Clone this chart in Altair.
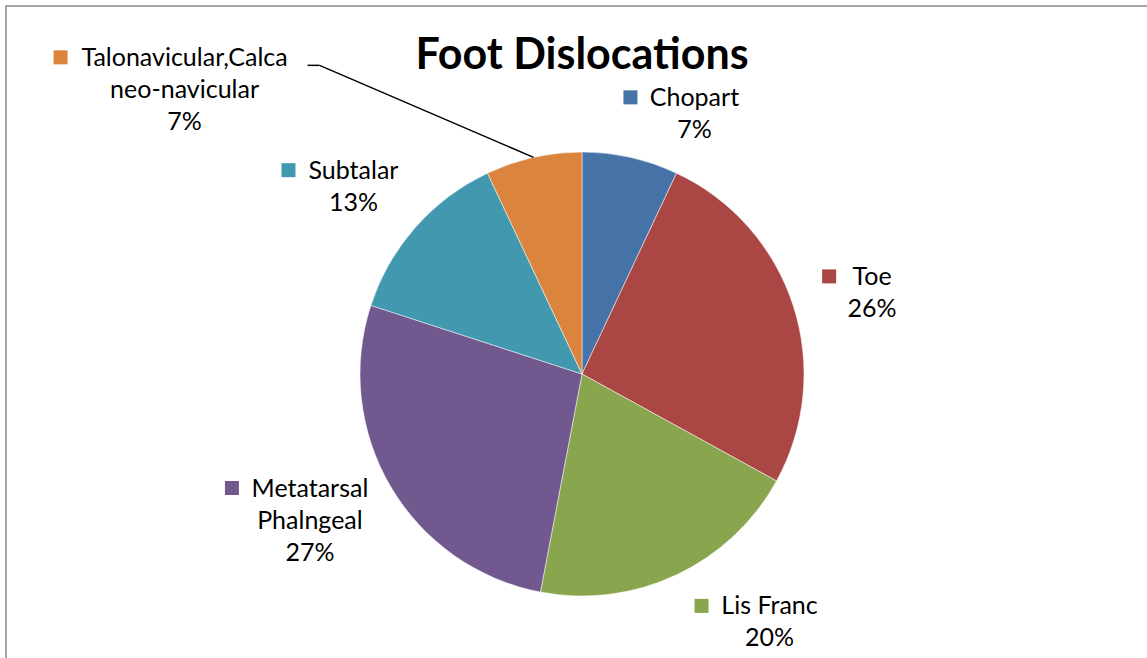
import altair as alt
import pandas as pd

# ---- data ----
title_text = "Foot Dislocations"
categories = ["Chopart", "Toe", "Lis Franc", "Metatarsal Phalngeal",
              "Subtalar", "Talonavicular,Calcaneo-navicular"]
label_lines = ["Chopart", "Toe", "Lis Franc", "Metatarsal\nPhalngeal",
               "Subtalar", "Talonavicular,Calca\nneo-navicular"]
values = [7, 26, 20, 27, 13, 7]
colors = ["#4572A7", "#AA4643", "#89A54E", "#71588F", "#4198AF", "#DB843D"]

df = pd.DataFrame({"category": categories, "label": label_lines,
                   "value": values, "order": list(range(len(values)))})

# ---- layout / styling ----
W, H = 1147, 658
CX, CY, R = 582, 374, 222
FONT = "Lato"
# label placement offsets from slice-edge point: (text dx, text dy, marker dx, marker dy)
offsets = [
    (64, -59, 0, -60),
    (79, -28, 36, -29),
    (93, 31, 25, 31),
    (-81, 2, -159, 1),
    (-62, -56, -127, -57),
    (-349, -99, -473, -100),
]

color = alt.Color("category:N", scale=alt.Scale(domain=categories, range=colors), legend=None)

base = alt.Chart(df)

frame = alt.Chart(pd.DataFrame({"k": [0]})).mark_rect(
    fillOpacity=0, stroke="#888888", strokeWidth=1.5
).encode(x=alt.value(6), x2=alt.value(W + 40), y=alt.value(6), y2=alt.value(H + 40))

pie = base.mark_arc(outerRadius=R, stroke="white", strokeWidth=0.5).encode(
    theta=alt.Theta("value:Q", stack=True),
    order=alt.Order("order:Q"),
    color=color,
    x=alt.value(CX), y=alt.value(CY),
)

pos = base.transform_joinaggregate(total="sum(value)").transform_window(
    cum="sum(value)", sort=[alt.SortField("order")], frame=[None, 0]
).transform_calculate(
    mid="(datum.cum - datum.value / 2) / datum.total * 2 * PI",
    ex=f"{CX} + {R} * sin(datum.mid)",
    ey=f"{CY} - {R} * cos(datum.mid)",
    txt="datum.label + '\\n' + format(datum.value, 'd') + '%'",
)

X = alt.X("ex:Q", scale=None)
Y = alt.Y("ey:Q", scale=None)

layers = [frame, pie]
for cat, (tx, ty, mx, my) in zip(categories, offsets):
    sub = pos.transform_filter(alt.datum.category == cat)
    layers.append(sub.mark_text(
        font=FONT, fontSize=25, lineHeight=32, lineBreak="\n", align="center",
        baseline="middle", dx=tx, dy=ty, color="black"
    ).encode(x=X, y=Y, text="txt:N"))
    layers.append(sub.mark_square(size=196, opacity=1, xOffset=mx, yOffset=my).encode(
        x=X, y=Y, color=color))

# leader line for the Talonavicular label
lead = pos.transform_filter(alt.datum.category == categories[-1]).transform_calculate(
    lx="datum.ex - 214", ly="datum.ey - 92", lx2="datum.ex - 226"
)
layers.append(lead.mark_rule(color="black", strokeWidth=1.5).encode(
    x=X, y=Y, x2="lx:Q", y2="ly:Q"))
layers.append(lead.mark_rule(color="black", strokeWidth=1.5).encode(
    x=alt.X("lx:Q", scale=None), y=alt.Y("ly:Q", scale=None), x2="lx2:Q"))

title = alt.Chart(pd.DataFrame({"t": [title_text]})).mark_text(
    font=FONT, fontSize=43, fontWeight="bold", align="center", baseline="middle", color="black"
).encode(x=alt.value(CX), y=alt.value(56), text="t:N")
layers.append(title)

chart = alt.layer(*layers).properties(
    width=W, height=H, autosize="none", padding=0, background="white"
).configure_view(stroke=None)

chart.save("out.html", embed_options={"renderer": "svg", "actions": False})
